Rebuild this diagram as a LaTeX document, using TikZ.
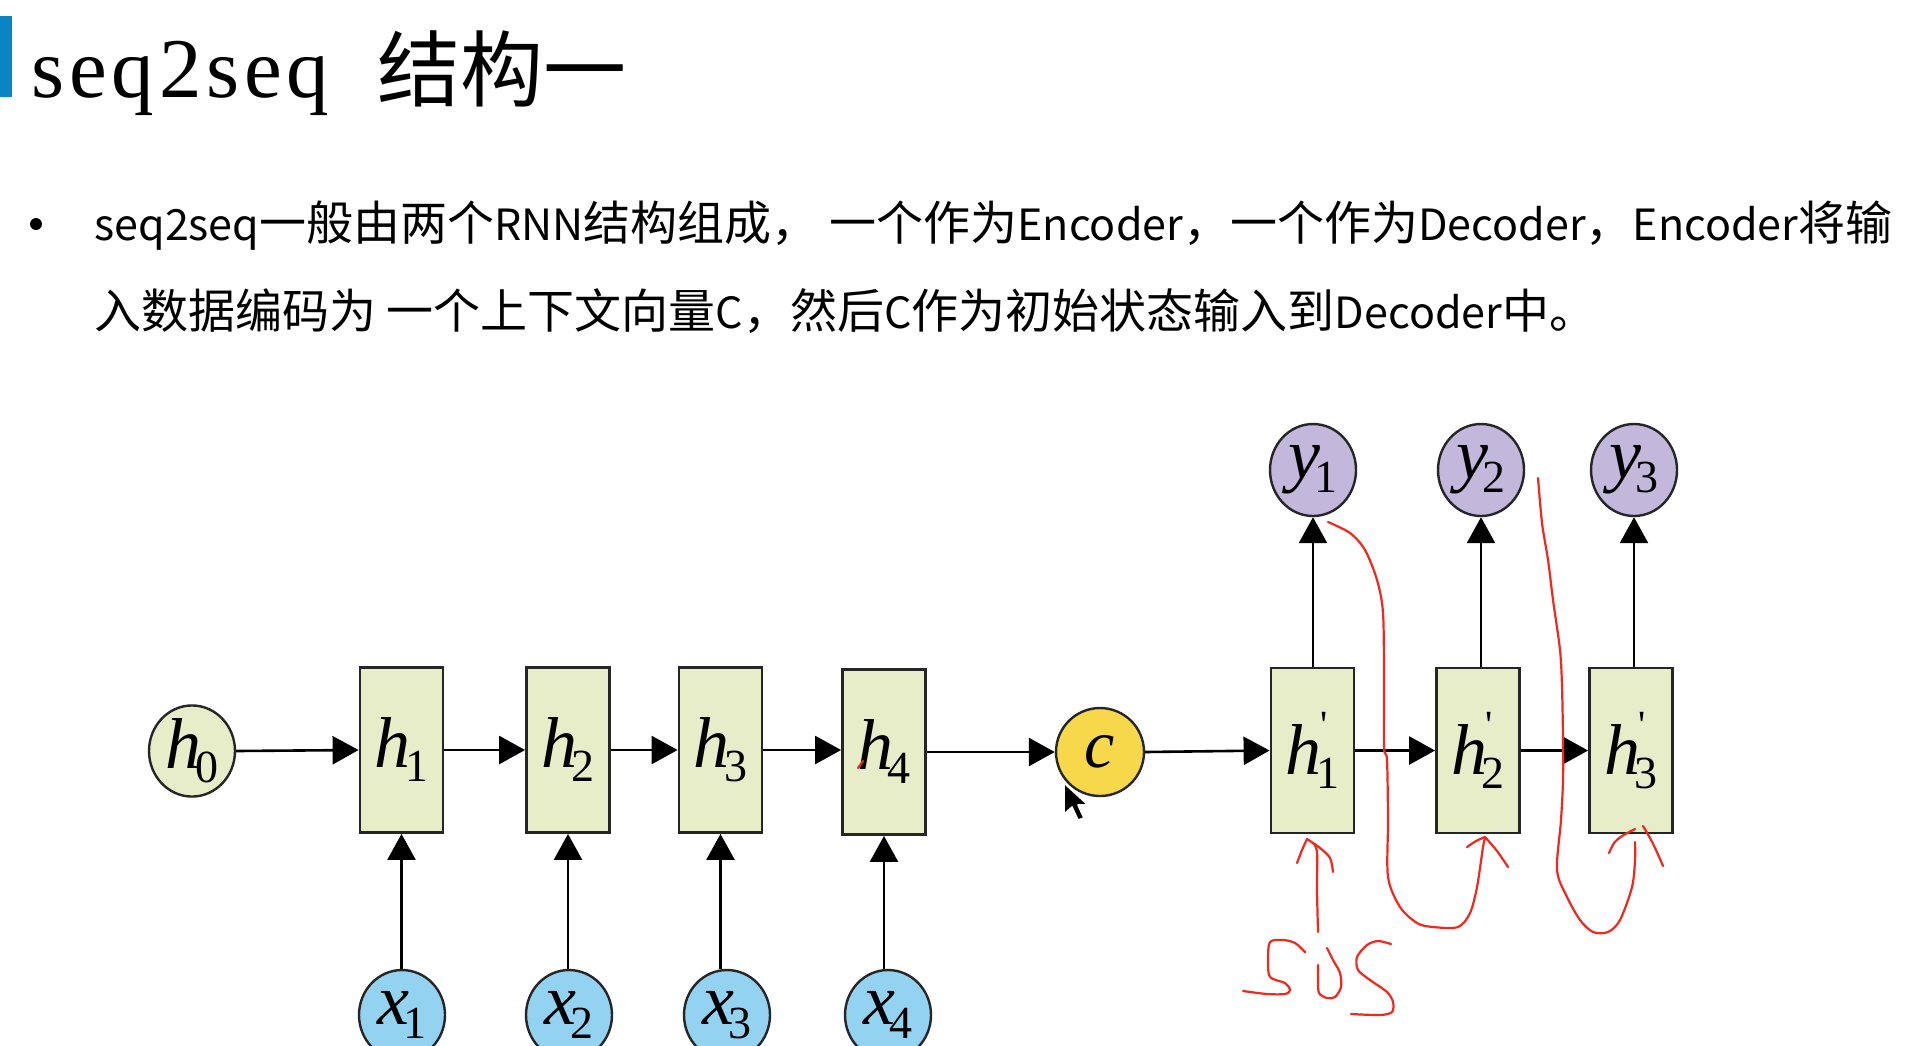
\documentclass[tikz,border=0pt]{standalone}
\usepackage{fontspec}
\setmainfont{Liberation Serif}
\newfontfamily\rawserif{Liberation Serif}
\newfontfamily\cjk{Noto Sans CJK SC}
\usetikzlibrary{arrows.meta,shapes.geometric}
\definecolor{boxfill}{HTML}{E7ECC9}
\definecolor{xfill}{HTML}{93D2F0}
\definecolor{yfill}{HTML}{C3B8DC}
\definecolor{cfill}{HTML}{F7D84B}
\definecolor{penred}{HTML}{F0281E}
\definecolor{titleblue}{HTML}{0A85C3}
\newcommand{\ltr}[2]{{\fontsize{36}{36}\selectfont\textit{#1}}\kern-2.8pt\raisebox{-7pt}{\fontsize{23}{23}\selectfont #2}}
\newcommand{\ltrp}[2]{{\fontsize{36}{36}\selectfont\textit{#1}}\kern-2.8pt\makebox[0pt][l]{\kern2pt\raisebox{18pt}{\rawserif\fontsize{20}{20}\selectfont '}}\raisebox{-7pt}{\fontsize{23}{23}\selectfont #2}}
\newcommand{\ls}{\kern2.4pt}
\newcommand{\en}[1]{{\fontsize{21.5}{21.5}\selectfont #1}}
\begin{document}
\begin{tikzpicture}[x=0.5pt,y=-0.5pt,
  cellbox/.style={rectangle, draw=black!85, line width=1.4pt, fill=boxfill, minimum width=41.5pt, minimum height=82.5pt, inner sep=0pt},
  ell/.style={ellipse, draw=black!85, line width=1.2pt, minimum width=43pt, minimum height=45pt, inner sep=0pt},
  arr/.style={-{Triangle[length=13pt,width=14pt]}, line width=1.3pt},
  redpen/.style={draw=penred, line width=1.1pt, line cap=round, line join=round}]
\useasboundingbox (0,0) rectangle (1920,1045);
\fill[white] (0,0) rectangle (1920,1045);
% title
\fill[titleblue] (0,16) rectangle (12,97);
\node[anchor=base west, inner sep=0pt, font=\fontsize{42.5}{42.5}\selectfont] (t1) at (31,97) {s\ls e\ls q\ls 2\ls s\ls e\ls q};
\node[anchor=base west, inner sep=0pt, font=\cjk\fontsize{41.5}{41.5}\selectfont] (t2) at (377,100) {结构一};
% bullet
\fill (36,224) circle (6);
\node[anchor=base west, inner sep=0pt, font=\cjk\fontsize{23.5}{23.5}\selectfont] (b1) at (94,240) {\en{seq2seq}一般由两个\en{RNN}结构组成， 一个作为\en{Encoder}，一个作为\en{Decoder}，\en{Encoder}将输};
\node[anchor=base west, inner sep=0pt, font=\cjk\fontsize{23.5}{23.5}\selectfont] (b2) at (94,328) {入数据编码为 一个上下文向量\en{C}，然后\en{C}作为初始状态输入到\en{Decoder}中。};
% encoder
\node[ell, fill=boxfill, minimum height=45pt] (h0) at (192,751) {\ltr{h}{0}};
\node[cellbox] (h1) at (401.5,750) {\ltr{h}{1}};
\node[cellbox] (h2) at (568,750) {\ltr{h}{2}};
\node[cellbox] (h3) at (720.5,750) {\ltr{h}{3}};
\node[cellbox] (h4) at (884,752) {\ltr{h}{4}};
\node[ell, fill=xfill] (x1) at (402,1015) {\ltr{x}{1}};
\node[ell, fill=xfill] (x2) at (569,1015) {\ltr{x}{2}};
\node[ell, fill=xfill] (x3) at (727,1015) {\ltr{x}{3}};
\node[ell, fill=xfill] (x4) at (888,1015) {\ltr{x}{4}};
\node[ell, fill=cfill, minimum width=44pt, minimum height=44pt] (c) at (1100,752) {\fontsize{34}{34}\selectfont\textit{c}};
% decoder
\node[cellbox] (d1) at (1312.5,750.5) {\ltrp{h}{1}};
\node[cellbox] (d2) at (1478,750.5) {\ltrp{h}{2}};
\node[cellbox] (d3) at (1631,750.5) {\ltrp{h}{3}};
\node[ell, fill=yfill, minimum height=46pt] (y1) at (1313,470) {\ltr{y}{1}};
\node[ell, fill=yfill, minimum height=46pt] (y2) at (1481,470) {\ltr{y}{2}};
\node[ell, fill=yfill, minimum height=46pt] (y3) at (1634,470) {\ltr{y}{3}};
% connectors
\draw[arr] (h0.east) -- (h1.west);
\draw[arr] (h1.east) -- (h2.west);
\draw[arr] (h2.east) -- (h3.west);
\draw[arr] (h3.east) -- (h3.east -| h4.west);
\draw[arr] (h4.east) -- (c.west);
\draw[arr] (c.east) -- (d1.west);
\draw[arr] (d1.east) -- (d2.west);
\draw[arr] (d2.east) -- (d3.west);
\foreach \i in {1,2,3,4} \draw[arr] (x\i.north -| h\i.south) -- (h\i.south);
\foreach \i in {1,2,3} \draw[arr] (y\i.south |- d\i.north) -- (y\i.south);
% red pen annotations
\draw[redpen] (858,768) -- (863,761);
\draw[redpen] plot[smooth] coordinates {(1318,932) (1317,890) (1317,852) (1313,843)};
\draw[redpen] plot[smooth] coordinates {(1297,863) (1302,850) (1307,839)};
\draw[redpen] plot[smooth] coordinates {(1307,839) (1320,848) (1330,858) (1333,872)};
\draw[redpen] plot[smooth] coordinates {(1305,952) (1295,943) (1283,940) (1270,942) (1268,960) (1270,977) (1285,983) (1290,990) (1285,994) (1267,994) (1243,991)};
\draw[redpen] plot[smooth] coordinates {(1327,948) (1333,960) (1340,973) (1341,987) (1335,997) (1327,998) (1319,993) (1318,980) (1318,965)};
\draw[redpen] plot[smooth] coordinates {(1391,944) (1378,941) (1367,945) (1357,957) (1358,970) (1370,980) (1387,992) (1393,1002) (1392,1012) (1380,1015) (1351,1014)};
\draw[redpen] plot[smooth] coordinates {(1328,522) (1350,533) (1365,550) (1377,580) (1383,613) (1384,680) (1384,747) (1387,760) (1388,820) (1388,877) (1400,907) (1417,923) (1433,927) (1458,927) (1470,913) (1477,887) (1483,847) (1485,838)};
\draw[redpen] plot[smooth] coordinates {(1467,847) (1476,841) (1485,837)};
\draw[redpen] plot[smooth] coordinates {(1485,837) (1497,851) (1508,867)};
\draw[redpen] plot[smooth] coordinates {(1538,478) (1542,523) (1548,560) (1553,600) (1560,650) (1562,687) (1563,740) (1563,780) (1561,820) (1557,870) (1567,897) (1580,920) (1593,932) (1608,932) (1620,920) (1632,887) (1635,860) (1635,842)};
\draw[redpen] plot[smooth] coordinates {(1609,853) (1614,843) (1622,836) (1635,829)};
\draw[redpen] plot[smooth] coordinates {(1643,826) (1650,838) (1656,850) (1663,866)};
% mouse cursor
\filldraw[fill=black, draw=white, line width=0.8pt, line join=round] (1064,783) -- ++(0,31) -- ++(8,-7) -- ++(6,13) -- ++(6,-2) -- ++(-6,-13) -- ++(10,0) -- cycle;
\end{tikzpicture}
\end{document}
